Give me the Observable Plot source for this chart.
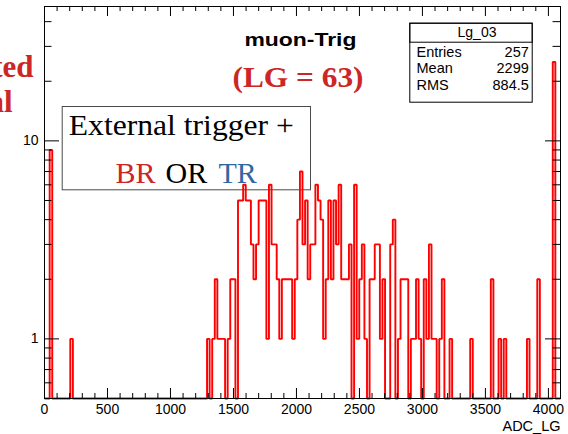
<!DOCTYPE html>
<html>
<head>
<meta charset="utf-8">
<script src="https://cdn.jsdelivr.net/npm/d3@7"></script>
<script src="https://cdn.jsdelivr.net/npm/@observablehq/plot@0.6"></script>
<style>
  html, body { margin: 0; padding: 0; background: #fff; }
  #chart { width: 568px; height: 434px; overflow: hidden; }
</style>
</head>
<body>
<div id="chart"></div>
<script>
// ---------------- data ----------------
const nBins = 200;            // histogram bins over 0..4096 ADC
const xMax = 4096;
const filledBins = [2, 10, 63, 65, 66, 67, 68, 69, 71, 72, 73, 75, 76, 77, 78, 79, 80, 81, 82, 83, 84, 85,
  86, 87, 88, 89, 90, 91, 92, 93, 94, 95, 96, 97, 98, 99, 100, 101, 102, 103, 104, 105, 106, 107, 108,
  109, 110, 111, 112, 113, 114, 115, 116, 117, 118, 120, 121, 122, 123, 124, 126, 127, 128, 129, 130,
  131, 134, 135, 137, 138, 139, 140, 142, 143, 144, 145, 147, 148, 149, 150, 151, 153, 154, 157,
  165, 173, 176, 178, 187, 191, 197];
const binCounts = [9, 1, 1, 1, 2, 1, 1, 1, 1, 2, 2, 5, 5, 6, 5, 5, 3, 2, 3, 5, 5, 5,
  1, 6, 3, 3, 2, 1, 2, 2, 2, 2, 1, 2, 4, 7, 3, 5, 2, 3, 3, 6, 5, 4, 1,
  2, 5, 2, 5, 3, 6, 2, 2, 2, 3, 6, 1, 2, 3, 1, 2, 2, 3, 3, 1,
  2, 3, 4, 1, 2, 2, 2, 1, 1, 2, 1, 2, 1, 3, 1, 1, 1, 2, 1,
  1, 2, 1, 1, 1, 2, 25];

const xMajorTicks = [0, 500, 1000, 1500, 2000, 2500, 3000, 3500, 4000];
const xMinorTicks = [100, 200, 300, 400, 600, 700, 800, 900, 1100, 1200, 1300, 1400, 1600, 1700, 1800, 1900,
  2100, 2200, 2300, 2400, 2600, 2700, 2800, 2900, 3100, 3200, 3300, 3400, 3600, 3700, 3800, 3900];
const yMajorTicks = [1, 10];
const yMinorTicks = [0.6, 0.7, 0.8, 0.9, 2, 3, 4, 5, 6, 7, 8, 9, 20, 30, 40];
const yDomain = [0.5, 47.7];

const histName = "Lg_03";
const statsLabels = ["Entries", "Mean", "RMS"];
const statsValues = ["257", "2299", "884.5"];

const plotTitle = "muon-Trig";
const plotSubtitle = "(LG = 63)";
const sideWords = ["ted", "al"];
const legendLine1 = "External trigger +";
const legendWords = ["BR", "OR", "TR"];
const xLabel = "ADC_LG";

// ---------------- styles ----------------
const sans = "'Liberation Sans', Arimo, Helvetica, Arial, sans-serif";
const serif = "'Liberation Serif', Tinos, 'Times New Roman', serif";
const histRed = "#ff0000";
const textRed = "#cd2626";
const textBlue = "#2f67a4";
const legendColors = [textRed, "#000000", textBlue];

// layout (pixels)
const W = 568, H = 434, mL = 44, mR = 8, mT = 6, mB = 36;
const fw = W - mL - mR, fh = H - mT - mB;

// ---------------- build histogram steps ----------------
const counts = new Array(nBins).fill(0);
filledBins.forEach((b, i) => { counts[b] = binCounts[i]; });
const bw = xMax / nBins;
const steps = counts.map((c, i) => ({x: i * bw, y: Math.max(c, yDomain[0])}));
steps.push({x: xMax, y: steps[nBins - 1].y});

// helper: text anchored to the frame's top-left corner
const T = (s, X, Y, o = {}) => Plot.text([s], {
  frameAnchor: "top-left", dx: X - mL, dy: Y - mT, lineAnchor: "bottom",
  fontFamily: sans, fontSize: 14, fill: "black", ...o
});

const marks = [
  // legend box (transparent)
  Plot.frame({stroke: "#4a4a4a", strokeWidth: 1, insetLeft: 61.7 - mL, insetRight: (W - mR) - 310,
    insetTop: 106 - mT, insetBottom: (H - mB) - 189.3}),
  // histogram outline
  Plot.line(steps, {x: "x", y: "y", curve: "step-after", stroke: histRed, strokeWidth: 1.9,
    strokeLinejoin: "miter", strokeLinecap: "butt"}),
  // frame
  Plot.frame({stroke: "black", strokeWidth: 1}),
  // inward ticks: bottom / top
  Plot.ruleX(xMinorTicks, {x: d => d, insetTop: fh - 5, stroke: "black"}),
  Plot.ruleX(xMajorTicks, {x: d => d, insetTop: fh - 10, stroke: "black"}),
  Plot.ruleX(xMinorTicks, {x: d => d, insetBottom: fh - 5, stroke: "black"}),
  Plot.ruleX(xMajorTicks, {x: d => d, insetBottom: fh - 10, stroke: "black"}),
  // inward ticks: left / right
  Plot.ruleY(yMinorTicks, {y: d => d, insetRight: fw - 7.5, stroke: "black"}),
  Plot.ruleY(yMajorTicks, {y: d => d, insetRight: fw - 15, stroke: "black"}),
  Plot.ruleY(yMinorTicks, {y: d => d, insetLeft: fw - 7.5, stroke: "black"}),
  Plot.ruleY(yMajorTicks, {y: d => d, insetLeft: fw - 15, stroke: "black"}),
  // axis labels
  Plot.axisX(xMajorTicks, {tickSize: 0, tickPadding: 6, fontSize: 14, fontFamily: sans,
    tickFormat: d => String(d), label: null}),
  Plot.axisY(yMajorTicks, {tickSize: 0, tickPadding: 6, fontSize: 14, fontFamily: sans,
    tickFormat: d => String(d), label: null}),
  T(xLabel, 560, 430, {textAnchor: "end", fontSize: 14.5}),
  // stats box
  Plot.frame({fill: "white", stroke: "black", strokeWidth: 1, insetLeft: 409.3 - mL, insetRight: (W - mR) - 531.7,
    insetTop: 22.7 - mT, insetBottom: (H - mB) - 101.7}),
  Plot.frame({stroke: "black", strokeWidth: 1, insetLeft: 409.3 - mL, insetRight: (W - mR) - 531.7,
    insetTop: 22.7 - mT, insetBottom: (H - mB) - 41.7}),
  T(histName, 476.5, 36.7, {textAnchor: "middle", fontSize: 14}),
  ...statsLabels.map((s, i) => T(s, 416, 56 + i * 16.7, {textAnchor: "start", fontSize: 14.5})),
  ...statsValues.map((s, i) => T(s, 528.3, 56 + i * 16.7, {textAnchor: "end", fontSize: 14.5})),
  // titles
  T(plotTitle, 300, 45, {textAnchor: "middle", fontWeight: "bold", fontSize: 19}),
  T(plotSubtitle, 297.5, 86, {textAnchor: "middle", fontWeight: "bold", fontSize: 29, fontFamily: serif, fill: textRed}),
  T(sideWords[0], 33, 76.7, {textAnchor: "end", fontWeight: "bold", fontSize: 31, fontFamily: serif, fill: textRed}),
  T(sideWords[1], 12, 111.7, {textAnchor: "end", fontWeight: "bold", fontSize: 31, fontFamily: serif, fill: textRed}),
  // legend text
  T(legendLine1, 68.3, 134.5, {textAnchor: "start", fontSize: 30, fontFamily: serif}),
  T(legendWords[0], 115, 182, {textAnchor: "start", fontSize: 30, fontFamily: serif, fill: legendColors[0]}),
  T(legendWords[1], 165, 182, {textAnchor: "start", fontSize: 30, fontFamily: serif, fill: legendColors[1]}),
  T(legendWords[2], 218, 182, {textAnchor: "start", fontSize: 30, fontFamily: serif, fill: legendColors[2]})
];

const svg = Plot.plot({
  width: W, height: H,
  marginLeft: mL, marginRight: mR, marginTop: mT, marginBottom: mB,
  style: {background: "white", color: "black", fontFamily: sans},
  x: {domain: [0, xMax]},
  y: {type: "log", domain: yDomain},
  marks
});

// stretch wide annotation texts to the widths seen in the original
const targetLengths = {[plotTitle]: 112, [plotSubtitle]: 131, [legendLine1]: 225};
svg.querySelectorAll("text").forEach(t => {
  const L = targetLengths[t.textContent];
  if (L) { t.setAttribute("textLength", L); t.setAttribute("lengthAdjust", "spacingAndGlyphs"); }
});

document.getElementById("chart").appendChild(svg);
</script>
</body>
</html>
